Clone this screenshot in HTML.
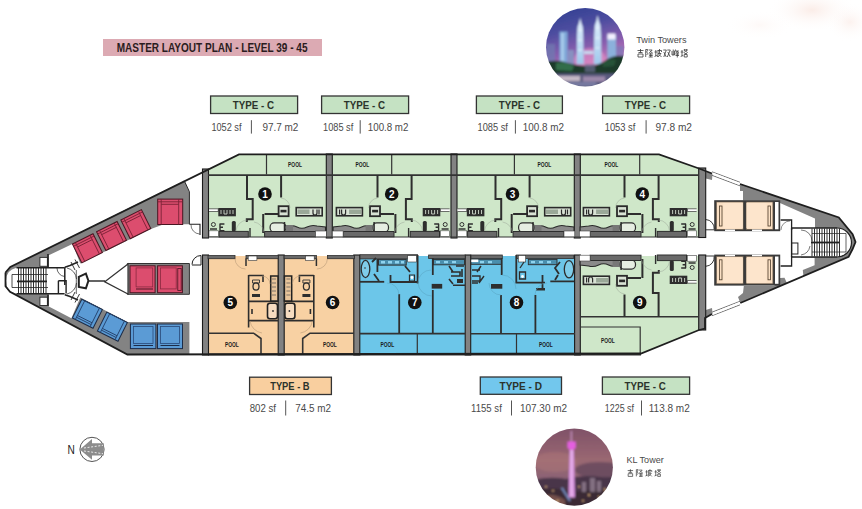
<!DOCTYPE html>
<html><head><meta charset="utf-8">
<style>
html,body{margin:0;padding:0;background:#fff;width:862px;height:509px;overflow:hidden}
svg{display:block}
text{font-family:"Liberation Sans",sans-serif}
</style></head>
<body>
<svg width="862" height="509" viewBox="0 0 862 509">
<defs>
 <radialGradient id="wc" cx="0.5" cy="0.5" r="0.5">
  <stop offset="0" stop-color="#f8e0d8" stop-opacity="0.6"/>
  <stop offset="1" stop-color="#fff" stop-opacity="0"/>
 </radialGradient>
</defs>
<rect width="862" height="509" fill="#fff"/>
<ellipse cx="812" cy="10" rx="45" ry="22" fill="url(#wc)"/>
<ellipse cx="850" cy="22" rx="25" ry="20" fill="url(#wc)" opacity="0.7"/>
<ellipse cx="760" cy="25" rx="35" ry="15" fill="url(#wc)" opacity="0.35"/>

<!-- Title banner -->
<rect x="103" y="39" width="219" height="17" fill="#dcaab3"/>
<text x="116.7" y="52.2" font-size="12.3" font-weight="bold" fill="#2a1c20" textLength="190.8" lengthAdjust="spacingAndGlyphs">MASTER LAYOUT PLAN - LEVEL  39 - 45</text>

<!-- Type labels top -->
<g font-weight="bold" font-size="11.6" fill="#2b332b">
 <rect x="210.6" y="96" width="87" height="17.5" fill="#c5e2c3" stroke="#333" stroke-width="1.3"/>
 <text x="232.7" y="109.1" textLength="41.3" lengthAdjust="spacingAndGlyphs">TYPE - C</text>
 <rect x="321.6" y="96" width="87" height="17.5" fill="#c5e2c3" stroke="#333" stroke-width="1.3"/>
 <text x="343.7" y="109.1" textLength="41.3" lengthAdjust="spacingAndGlyphs">TYPE - C</text>
 <rect x="476.4" y="96" width="86" height="17.5" fill="#c5e2c3" stroke="#333" stroke-width="1.3"/>
 <text x="498.7" y="109.1" textLength="41.3" lengthAdjust="spacingAndGlyphs">TYPE - C</text>
 <rect x="602.6" y="96" width="87" height="17.5" fill="#c5e2c3" stroke="#333" stroke-width="1.3"/>
 <text x="624.7" y="109.1" textLength="41.3" lengthAdjust="spacingAndGlyphs">TYPE - C</text>
 <rect x="249.6" y="377.2" width="81.8" height="17.3" fill="#f9cf9f" stroke="#333" stroke-width="1.3"/>
 <text x="270.2" y="390" textLength="39.4" lengthAdjust="spacingAndGlyphs">TYPE - B</text>
 <rect x="480.3" y="377" width="81.2" height="17.3" fill="#72c7ed" stroke="#333" stroke-width="1.3"/>
 <text x="499.5" y="390" textLength="42.5" lengthAdjust="spacingAndGlyphs">TYPE - D</text>
 <rect x="602.4" y="377" width="87.2" height="17.3" fill="#c5e2c3" stroke="#333" stroke-width="1.3"/>
 <text x="624.5" y="390" textLength="41.3" lengthAdjust="spacingAndGlyphs">TYPE - C</text>
</g>
<g font-size="10.6" fill="#4a4a4a">
 <text x="211.4" y="130.7" textLength="30.1" lengthAdjust="spacingAndGlyphs">1052 sf</text>
 <text x="262.4" y="130.7" textLength="36" lengthAdjust="spacingAndGlyphs">97.7 m2</text>
 <text x="323.1" y="130.7" textLength="30.2" lengthAdjust="spacingAndGlyphs">1085 sf</text>
 <text x="367.8" y="130.7" textLength="40.6" lengthAdjust="spacingAndGlyphs">100.8 m2</text>
 <text x="477.5" y="130.7" textLength="30.4" lengthAdjust="spacingAndGlyphs">1085 sf</text>
 <text x="522.8" y="130.7" textLength="41.1" lengthAdjust="spacingAndGlyphs">100.8 m2</text>
 <text x="604.7" y="130.7" textLength="30.7" lengthAdjust="spacingAndGlyphs">1053 sf</text>
 <text x="655.4" y="130.7" textLength="36.6" lengthAdjust="spacingAndGlyphs">97.8 m2</text>
 <text x="249.7" y="412.1" textLength="26.3" lengthAdjust="spacingAndGlyphs">802 sf</text>
 <text x="295.2" y="412.1" textLength="35.8" lengthAdjust="spacingAndGlyphs">74.5 m2</text>
 <text x="471.1" y="412.1" textLength="30.7" lengthAdjust="spacingAndGlyphs">1155 sf</text>
 <text x="519.9" y="412.1" textLength="47.3" lengthAdjust="spacingAndGlyphs">107.30 m2</text>
 <text x="604.8" y="412.1" textLength="29.2" lengthAdjust="spacingAndGlyphs">1225 sf</text>
 <text x="648.8" y="412.1" textLength="40.9" lengthAdjust="spacingAndGlyphs">113.8 m2</text>
</g>
<g stroke="#555" stroke-width="1">
 <path d="M251.4,120.2 V133.6 M360.2,120.2 V133.6 M515.4,120.2 V133.6 M646.1,120.2 V133.6"/>
 <path d="M285.7,400.5 V415.5 M511.5,400.5 V415.5 M641.5,400.5 V415.5"/>
</g>
<g font-size="9.8" fill="#4a4a4a">
 <text x="636.2" y="43.2" textLength="50.3" lengthAdjust="spacingAndGlyphs">Twin Towers</text>
 <text x="626.5" y="463.2" textLength="37.2" lengthAdjust="spacingAndGlyphs">KL Tower</text>
 <text x="67.6" y="454.3" font-size="13.6" fill="#1a1a1a" textLength="7.3" lengthAdjust="spacingAndGlyphs">N</text>
</g>

<!-- PHOTOS -->
<defs>
 <filter id="bl" x="-0.1" y="-0.1" width="1.2" height="1.2"><feGaussianBlur stdDeviation="0.9"/></filter>
 <clipPath id="c1"><circle cx="585.2" cy="47.2" r="39.2"/></clipPath>
 <clipPath id="c2"><circle cx="574.3" cy="467.2" r="38.6"/></clipPath>
 <linearGradient id="sky1" x1="0.2" y1="0" x2="0.5" y2="1">
  <stop offset="0" stop-color="#2c3c90"/>
  <stop offset="0.3" stop-color="#4e4ea0"/>
  <stop offset="0.55" stop-color="#8a5eae"/>
  <stop offset="0.75" stop-color="#c87ab8"/>
 </linearGradient>
 <linearGradient id="tw" x1="0" y1="0" x2="0" y2="1">
  <stop offset="0" stop-color="#e8f4ff"/>
  <stop offset="1" stop-color="#9fc8ec"/>
 </linearGradient>
 <linearGradient id="sky2" x1="0" y1="0" x2="0" y2="1">
  <stop offset="0" stop-color="#7e5068"/>
  <stop offset="0.4" stop-color="#9a6872"/>
  <stop offset="0.6" stop-color="#8e6474"/>
  <stop offset="0.75" stop-color="#6e5470"/>
 </linearGradient>
</defs>
<g clip-path="url(#c1)"><g filter="url(#bl)">
 <rect x="540" y="5" width="92" height="85" fill="url(#sky1)"/>
 <ellipse cx="590" cy="60" rx="16" ry="12" fill="#e890c8" opacity="0.55"/>
 <path d="M546,44 h9 v22 h-9z" fill="#7078b0" opacity="0.8"/>
 <path d="M559.5,31.6 h8 v34 h-8z" fill="#7fa8d8"/>
 <path d="M561,33 h3 v30 h-3z" fill="#b8d8f4" opacity="0.7"/>
 <path d="M568,50 h6 v16 h-6z" fill="#8890c0"/>
 <path d="M607.4,35 h8.6 v28 h-8.6z" fill="#8cb0dc"/>
 <rect x="607.5" y="33.5" width="8" height="6" fill="#f4f0ff"/>
 <path d="M616,46 h8 v18 h-8z" fill="#8078b8" opacity="0.8"/>
 <path d="M580.1,17.5 L581.3,23 L582.8,27 L583.3,36 L583.8,64 L576.5,64 L577,36 L577.5,27 L579,23 Z" fill="url(#tw)"/>
 <path d="M597.6,15 L598.8,21 L600.4,25.5 L601,35 L601.5,64 L593.8,64 L594.2,35 L594.8,25.5 L596.4,21 Z" fill="url(#tw)"/>
 <path d="M578,30 h4 M578,40 h4 M578,50 h4 M595.5,28 h4 M595.5,38 h4 M595.5,48 h4" stroke="#ffffff" stroke-width="1" opacity="0.8"/>
 <path d="M584,51 h9.5 v3 h-9.5z" fill="#c8d8f0"/>
 <path d="M540,62 L552,61 Q560,60 568,63 Q578,66 590,66 Q600,65 606,60 Q614,55 622,56 L632,54 V76 H540 Z" fill="#1c3a2a"/>
 <path d="M556,63 Q566,61 574,66 L572,71 L556,70Z" fill="#3a7a50" opacity="0.8"/>
 <path d="M603,62 Q610,58 616,60 L614,66 L603,67Z" fill="#2a5a3c" opacity="0.8"/>
 <path d="M585,64 h10 v8 h-10z" fill="#6a6a90" opacity="0.7"/>
 <rect x="540" y="73.5" width="92" height="17" fill="#5a5a7e"/>
 <path d="M556,76 h24 v5 h-24z" fill="#e0d0d8" opacity="0.8"/>
 <path d="M583,76.5 h22 v5 h-22z" fill="#c8a8c8" opacity="0.6"/>
 <path d="M566,82 h30 v4 h-30z" fill="#8a90b8" opacity="0.6"/>
</g></g>
<g clip-path="url(#c2)"><g filter="url(#bl)">
 <rect x="534" y="427" width="82" height="82" fill="url(#sky2)"/>
 <ellipse cx="600" cy="470" rx="25" ry="8" fill="#5e4458" opacity="0.7"/>
 <ellipse cx="555" cy="462" rx="22" ry="10" fill="#b07878" opacity="0.45"/>
 <path d="M534,480 Q550,476 566,479 Q585,474 600,477 Q610,478 616,476 V509 H534 Z" fill="#4a3448"/>
 <path d="M534,490 Q555,486 575,492 Q600,488 616,490 V509 H534 Z" fill="#3a2a36"/>
 <path d="M540,496 Q555,492 565,500 L565,509 H540Z" fill="#9a6a5a" opacity="0.6"/>
 <path d="M590,478 h5 v14 h-5z M597,481 h4 v11 h-4z M582,482 h4 v10 h-4z" fill="#a898a8" opacity="0.6"/>
 <g fill="#f0c080" opacity="0.75">
  <rect x="545" y="486" width="2" height="1.5"/><rect x="552" y="490" width="2" height="1.5"/><rect x="588" y="494" width="2" height="2"/><rect x="598" y="496" width="2" height="1.5"/><rect x="556" y="500" width="3" height="1.5"/><rect x="582" y="500" width="2" height="1.5"/><rect x="604" y="488" width="1.5" height="3"/><rect x="578" y="486" width="2" height="1.5"/>
 </g>
 <path d="M561.7,487.7 L570,500.9" stroke="#8ab0f0" stroke-width="2" opacity="0.7"/>
 <path d="M571.3,431 V442" stroke="#d8a0d8" stroke-width="1"/>
 <path d="M567.5,441.5 h8.2 v6 l-2,2.3 h-4.2 l-2,-2.3 z" fill="#e45ee0"/>
 <path d="M569.6,449.8 L573.8,449.8 L575,497.6 L568.4,497.6 Z" fill="#d890e0"/>
 <path d="M570.8,450 h1.6 v47 h-1.6z" fill="#f0c8f0" opacity="0.8"/>
</g></g>
<!-- compass -->
<g>
 <circle cx="92" cy="449.4" r="12.1" fill="#fff" stroke="#555" stroke-width="1"/>
 <path d="M79.8,449.4 L92,438.9 L92,443.3 L103.8,443.3 L103.8,455.4 L92,455.4 L92,459.8 Z" fill="#8c8c8c"/>
 <path d="M84,448 L103,445.3 M84,451 L103,453.7" stroke="#fff" stroke-width="0.8" stroke-dasharray="2,1.6"/>
</g>
<g fill="none" stroke="#3a3a3a" stroke-width="0.8">
<path transform="translate(636.5,49) scale(1.0)" d="M1,1.5 H7 M4,0 V3.5 M2,3.5 H6 M1.5,5 H6.5 V8 H1.5 Z"/>
<path transform="translate(645.2,49) scale(1.0)" d="M0.5,0.5 H2.5 L1.5,3 L2.5,4.5 L1.5,6 M0.5,0.5 V8 M3.5,1 H7 L4,4 M5,2.5 L7.5,4 M3.5,5 H7.5 M4,6.5 H7.5 M5.5,4 V8 M3.5,8 H7.5"/>
<path transform="translate(654.0,49) scale(1.0)" d="M0.5,3 H3 M1.8,1 V7 M0.5,7.5 L3,6.5 M3.5,1.5 H7.5 V3 M4,1.5 V5 L3.5,8 M5.5,0 V4.5 M4,4.5 H7 L4,8 M5,5.5 L7.5,8"/>
<path transform="translate(662.8,49) scale(1.0)" d="M0.5,1 H3.5 L1,8 M1,3 L3.5,8 M4.5,1 H7.5 L4.5,8 M5,3 L7.5,8"/>
<path transform="translate(671.5,49) scale(1.0)" d="M0.5,2 V6 H3 V2 M1.75,0.5 V6 M4,0.5 L3.5,2 H7 L4,4 M5,2.5 L7.5,4 M4,5 H7.5 M4,6.5 H7.5 M5.8,4 V8.5"/>
<path transform="translate(680.2,49) scale(1.0)" d="M0.5,3 H3 M1.8,1 V7 M0.5,7.5 L3,6.5 M3.5,1 H7.5 M4.5,0 V2 M6.5,0 V2 M5.5,2 L3.5,4 M5.5,2 L7.5,4 M4.3,4.5 H6.7 M4,5.5 H7 V8 H4 Z"/>
<path transform="translate(626.8,469.2) scale(0.9)" d="M1,1.5 H7 M4,0 V3.5 M2,3.5 H6 M1.5,5 H6.5 V8 H1.5 Z"/>
<path transform="translate(635.9,469.2) scale(0.9)" d="M0.5,0.5 H2.5 L1.5,3 L2.5,4.5 L1.5,6 M0.5,0.5 V8 M3.5,1 H7 L4,4 M5,2.5 L7.5,4 M3.5,5 H7.5 M4,6.5 H7.5 M5.5,4 V8 M3.5,8 H7.5"/>
<path transform="translate(645.0,469.2) scale(0.9)" d="M0.5,3 H3 M1.8,1 V7 M0.5,7.5 L3,6.5 M3.5,1.5 H7.5 V3 M4,1.5 V5 L3.5,8 M5.5,0 V4.5 M4,4.5 H7 L4,8 M5,5.5 L7.5,8"/>
<path transform="translate(654.1,469.2) scale(0.9)" d="M0.5,3 H3 M1.8,1 V7 M0.5,7.5 L3,6.5 M3.5,1 H7.5 M4.5,0 V2 M6.5,0 V2 M5.5,2 L3.5,4 M5.5,2 L7.5,4 M4.3,4.5 H6.7 M4,5.5 H7 V8 H4 Z"/>
</g>
<!-- BUILDING -->
<g id="bld">
<!-- outer silhouette -->
<path id="sil" d="M5.5,272.5 L10.3,267 L239,154.4 L659,154.4 L699,168.5 L712,173.5 L740,184 L838.8,217.5 L852.6,234.2 L855.5,242 L852.6,249 L848.6,256.8 L740.3,303 L712,314 L705,318 L705,328.5 L699,330 L641,353.5 L127.4,354.5 L10,291.7 L5.5,286.2 Z" fill="#fff" stroke="none"/>
<!-- LEFT CORE -->
<g fill="#838383">
<path d="M5.5,272.5 L10.3,267 L184.3,180.6 L189.4,191.7 L189.4,224.2 L163.8,224.2 L151,229.1 L80.3,263.5 L72.4,243.9 L48.8,255.2 L48.8,267.7 L16.5,267.7 Q6,270 6,280.7 Q6,292 16.5,293.8 L48.8,293.8 L48.8,306.5 L71.4,318.2 L80.3,297.5 L127.4,322 L189.4,322 L189.4,354.5 L127.4,354.5 L10,291.7 L5.5,286.2 Z"/>
<path d="M127.4,263.5 L189.4,263.5 L189.4,294.3 L127.4,294.3 Z" stroke="#333" stroke-width="1"/>
</g>
<path d="M104.8,281.8 L128,264 L128,294 Z" fill="#fff" stroke="#333" stroke-width="1.2"/>

<g fill="#fff" stroke="#333" stroke-width="1">
<rect x="39.9" y="257.4" width="7.5" height="8.9"/>
<rect x="39.9" y="297.2" width="7.5" height="8.3"/>
</g>
<!-- stair left -->
<g stroke="#222" fill="none">
<path d="M16.5,267.7 L64.6,267.7 M16.5,293.8 L64.6,293.8" stroke-width="1.4"/>
<path d="M12,274.5 L48,274.5 M12,287.5 L48,287.5 M12,274.5 V287.5" stroke-width="0.8"/>
<path d="M17,281.4 L47,281.4" stroke-width="1.8"/>
<path d="M18.5,268 V293.5 M21,268 V293.5 M23.5,268 V293.5 M26,268 V293.5 M28.5,268 V293.5 M31,268 V293.5 M33.5,268 V293.5 M36,268 V293.5 M38.5,268 V293.5 M41,268 V293.5 M43.5,268 V293.5 M46,268 V293.5" stroke-width="0.95"/>
<path d="M64.8,267.2 V285" stroke-width="1.5"/>
<path d="M58.4,280.7 H66.1 V293.4 M58.4,280.7 V293.4" stroke-width="1.4"/>
<path d="M57,268 A8.5,8.5 0 0 0 64.5,276.5" stroke-width="0.7"/>
<path d="M48,254 V267.2 M48,294.7 V306" stroke-width="1.6"/>
<path d="M64.8,267.2 L70,265.5 L78,262 M64.8,294.7 L70,296.5 L78,300" stroke-width="1.5"/>
<path d="M71,262 L75,270 M75,259.5 L79.5,268 M71,300 L75,292 M75,302.5 L79.5,294" stroke-width="0.9"/>
<path d="M78.8,276.8 L85.9,273.6 L88.4,280.7 L85.9,288.3 L78.8,287 Z" stroke-width="2"/>
<path d="M88.4,281 H105" stroke-width="1.4"/>
<path d="M67,268 A12,12 0 0 1 76.5,279 M67,294 A12,12 0 0 0 76.5,283 M76.3,270 V294" stroke-width="0.7"/>
</g>
<g fill="none" stroke="#222" stroke-width="1.1">
 <path d="M189.3,224.2 H200 V235"/>
 <path d="M191,224.5 A9,9 0 0 0 199.5,234" stroke-width="0.6"/>
 <path d="M192,264.5 A9,9 0 0 1 201,255.5" stroke-width="1"/>
 <path d="M201,255.5 V265 H192" stroke-width="1"/>
</g>
<path d="M184.3,180.8 L189.4,191.7 V224.2" fill="none" stroke="#2a2a2a" stroke-width="1"/>
<!-- RIGHT CORE -->
<g stroke="#333" stroke-width="0.7" fill="none">
 <path d="M712,171.8 L740,182.3 M712,175.3 L740,185.8"/>
 <path d="M712,312.2 L740,301.3 M712,315.7 L740,304.8"/>
</g>
<path d="M712.3,173.5 L739.7,184" stroke="#fff" stroke-width="2.2"/>
<path d="M712.3,314 L739.7,303" stroke="#fff" stroke-width="2.2"/>

<g fill="#838383">
<path d="M740,184 L838.8,217.5 L852.6,234.2 L855.5,242 L852.6,249 L848.6,256.8 L740.3,303 L738,297 L743,293 L743.8,286 L774.5,286 L775.7,278.3 L784.5,277.7 L786.9,283 L803.4,276.2 L802.8,270 L814.6,265.3 L814.6,257.7 L801,257.7 L801,228 L815,228 L815,218.5 L780,203 L780,200.5 L743,200.5 L743,191 L740,191 Z"/>
<path d="M699,168.5 L712.5,173.7 L712,180 L705.7,178.5 L705.7,172 Z"/>
<path d="M705,318 L712.5,314 L712,308 L705.7,310 Z"/>
</g>
<path d="M801,228 L837,228 A14.5,14.5 0 0 1 837,257 L801,257 Z" fill="#fff"/>
<g stroke="#222" fill="none">
<path d="M791.6,228 L837,228 M791.6,257 L837,257" stroke-width="1.6"/>
<path d="M837,228 A14.5,14.5 0 0 1 837,257" stroke-width="1.2"/>
<path d="M812,233.5 L846,233.5 L846,252 L812,252" stroke-width="0.7"/>
<path d="M811,242.5 L839,242.5" stroke-width="1.8"/>
<path d="M812,228.5 V256.5 M814.5,228.5 V256.5 M817,228.5 V256.5 M819.5,228.5 V256.5 M822,228.5 V256.5 M824.5,228.5 V256.5 M827,228.5 V256.5 M829.5,228.5 V256.5 M832,228.5 V256.5 M834.5,228.5 V256.5 M837,228.5 V256.5 M839.5,228.5 V256.5" stroke-width="0.95"/>
<path d="M801,230 A11,11 0 0 1 812,241 M801,255 A11,11 0 0 0 810,246" stroke-width="0.6"/>
<path d="M791.6,228 V257" stroke-width="1.4"/>
<path d="M780.6,220 H791.6 V230" stroke-width="1.3"/>
<path d="M780.6,266 H791.6 V256" stroke-width="1.3"/>
<rect x="791.6" y="243" width="6.3" height="11" stroke-width="1"/>
<path d="M781,230 A9,9 0 0 1 790,221" stroke-width="0.5"/>
</g>
<!-- LIFTS -->
<defs>
<g id="lp"><rect x="-11.5" y="-10.5" width="23" height="21" fill="#dc4d6e" stroke="#4a1622" stroke-width="1"/><path d="M-8.2,-10.5 V10.5 M8.2,-10.5 V10.5 M-11.5,-8 H11.5 M-8.2,-5.6 H8.2" fill="none" stroke="#7a2236" stroke-width="0.85"/></g>
<g id="lb"><rect x="-11.5" y="-10.5" width="23" height="21" fill="#5b9bd5" stroke="#1c2c48" stroke-width="1"/><path d="M-8.2,-10.5 V10.5 M8.2,-10.5 V10.5 M-8.2,-10.5 H8.2 M-8.2,6 H8.2 M-8.2,8 H8.2" fill="none" stroke="#24406a" stroke-width="0.85"/></g>
</defs>
<use href="#lp" transform="translate(87.4,248.3) rotate(-26.5)"/>
<use href="#lp" transform="translate(111.5,236) rotate(-26.5)"/>
<use href="#lp" transform="translate(135.8,224.2) rotate(-26.5)"/>
<use href="#lb" transform="translate(87.4,313.75) rotate(26.5)"/>
<use href="#lb" transform="translate(112.4,326.7) rotate(26.5)"/>
<g stroke-width="1">
<rect x="157.7" y="199.1" width="25" height="25.4" fill="#dc4d6e" stroke="#4a1622"/>
<path d="M161.2,199.1 V224.5 M178.7,199.1 V224.5 M158,201.8 H182.5 M161.2,204.3 H178.7" fill="none" stroke="#7a2236" stroke-width="0.9"/>
<rect x="130" y="265.8" width="25.1" height="26.9" fill="#dc4d6e" stroke="#4a1622"/>
<rect x="136.1" y="267.9" width="16.6" height="19" fill="none" stroke="#8a2a40" stroke-width="0.8"/>
<path d="M136,289 H153" stroke="#4a1622"/>
<rect x="157.6" y="265.8" width="24.8" height="26.9" fill="#dc4d6e" stroke="#4a1622"/>
<rect x="160.5" y="267.9" width="15.7" height="21" fill="none" stroke="#8a2a40" stroke-width="0.8"/>
<rect x="177.8" y="268.5" width="3.4" height="22" fill="none" stroke="#4a1622" stroke-width="0.8"/>
<rect x="130.4" y="324" width="25.5" height="24.6" fill="#5b9bd5" stroke="#1c2c48"/>
<rect x="133.5" y="326.5" width="19.5" height="17" fill="none" stroke="#2a4a78" stroke-width="0.8"/>
<path d="M133.5,345.5 H153" stroke="#1c2c48"/>
<rect x="157.5" y="324" width="25" height="24.6" fill="#5b9bd5" stroke="#1c2c48"/>
<rect x="160.5" y="326.5" width="19" height="17" fill="none" stroke="#2a4a78" stroke-width="0.8"/>
<path d="M160.5,345.5 H179.5" stroke="#1c2c48"/>
</g>
<!-- right lifts -->
<g id="rl">
<rect x="714.2" y="200.2" width="66" height="31" fill="#3a3a3a"/>
<rect x="716.5" y="202" width="26.6" height="27.3" fill="#fbe0c4" stroke="#6a5a4a" stroke-width="0.6"/>
<rect x="723.3" y="203" width="19.5" height="25" fill="#fde5cc"/>
<rect x="719.6" y="206" width="2.4" height="20" fill="none" stroke="#4a3a2a" stroke-width="0.8"/>
<rect x="746.2" y="202" width="26.7" height="27.3" fill="#fbe0c4" stroke="#6a5a4a" stroke-width="0.6"/>
<rect x="746.5" y="203" width="20" height="25" fill="#fde5cc"/>
<rect x="768" y="206" width="2.4" height="20" fill="none" stroke="#4a3a2a" stroke-width="0.8"/>
<rect x="775" y="202" width="3.5" height="27.3" fill="#fff"/>
<rect x="725" y="229.5" width="10" height="1.6" fill="#fff"/><rect x="752" y="229.5" width="10" height="1.6" fill="#fff"/>
</g>
<use href="#rl" transform="translate(0,485.8) scale(1,-1)"/>
<!-- Upper units fill -->
<path d="M208,169 L239,154 L659,154 L699,168.5 L699,237 L208,237 Z" fill="#cfe7c9"/>
<!-- Lower units -->
<rect x="208" y="256" width="70" height="98" fill="#f8d1a3"/>
<rect x="284" y="256" width="70" height="98" fill="#f8d1a3"/>
<rect x="360" y="256" width="105" height="98" fill="#6cc6e9"/>
<rect x="471" y="256" width="104" height="98" fill="#6cc6e9"/>
<path d="M580,256 L699,256 L699,330 L641,353.5 L580,353.5 Z" fill="#cfe7c9"/>
<!-- unit walls -->
<g fill="#828282" stroke="#1a1a1a" stroke-width="1.1">
<rect x="202.5" y="169" width="6" height="69"/>
<rect x="326.3" y="154" width="6" height="84"/>
<rect x="451" y="154" width="6" height="84"/>
<rect x="574.3" y="154" width="6" height="84"/>
<rect x="202.5" y="255" width="6" height="100"/>
<rect x="278.2" y="255" width="6" height="100"/>
<rect x="353.8" y="255" width="6" height="100"/>
<rect x="465.2" y="255" width="5.5" height="100"/>
<rect x="574.6" y="255" width="5.7" height="100"/>
<rect x="698.7" y="168" width="7" height="69.5"/>
<rect x="698.7" y="255" width="7" height="75"/>
</g>
<!-- top edge / pools upper -->
<g stroke="#333" fill="none">
<path d="M208,175.2 L699,175.2" stroke-width="1.7"/>
<path d="M208,237 L699,237" stroke-width="1.1"/>
<path d="M266.5,154 L266.5,174.5 M391.7,154 L391.7,174.5 M514.4,154 L514.4,174.5 M639.7,154 L639.7,174.5" stroke-width="1.2"/>
<path d="M208,333.2 H253.6 L261,338.5 V354 M354,333.2 H310 L302.7,338.5 V354 M360,333.6 H465 M471,333.8 H575" stroke-width="1.6"/>
<path d="M580,316.7 L699,316.7" stroke-width="1.6"/>
<path d="M417.3,333 L417.3,354 M516.5,333 L516.5,354" stroke-width="1.2"/>
<path d="M580,327 L640.2,327 L640.2,354" stroke-width="1.2"/>
<path d="M208,354.5 L641,354.5" stroke-width="2"/>
</g>
<!-- UNIT C template -->
<defs>
<g id="uc">
 <g fill="none" stroke="#2e2e2e" stroke-width="2">
  <path d="M247,175 V199 H252.7 V219.2 H246.8 V222"/>
  <path d="M281.1,175 V197.5"/>
  <path d="M264.6,214 H278.5 M263.2,214 V233"/>
 </g>
 <path d="M209,208.8 H218.3 V211.5 H209" fill="#fff" stroke="#333" stroke-width="0.7"/>
 <rect x="218.3" y="208" width="17.6" height="8.3" fill="#2e2e2e"/>
 <path d="M221,210 v4 M224,210 v4 h3 v-4 M230,210 v4 M233,210 v4" stroke="#cfd8cc" stroke-width="0.9" fill="none"/>
 <circle cx="213.4" cy="224.5" r="2" fill="none" stroke="#333" stroke-width="1"/>
 <path d="M210,229 H217" stroke="#333" stroke-width="1.5"/>
 <path d="M219.5,224 H224.4 M219.5,227.3 H223 M219.5,230.6 H224.4 M220,224 V231" stroke="#2e2e2e" stroke-width="1.4" fill="none"/>
 <rect x="231.8" y="221" width="4" height="10.4" rx="1.5" fill="#2e2e2e"/>
 <rect x="219.1" y="231.4" width="29.2" height="5.6" fill="#6a6a6a" stroke="#2e2e2e" stroke-width="1"/>
 <rect x="209" y="230.8" width="9.3" height="5.6" fill="#fff" stroke="#444" stroke-width="0.6"/>
 <path d="M250,228 V237" stroke="#2e2e2e" stroke-width="1.4"/>
 <rect x="278.6" y="206.2" width="10" height="10" fill="#d8e2d4" stroke="#2a2a2a" stroke-width="1.8"/>
 <rect x="280.5" y="209.8" width="6" height="2.6" fill="#2a2a2a"/>
 <rect x="270.1" y="222.9" width="15.8" height="9" rx="4" fill="#e6eee2" stroke="#2e2e2e" stroke-width="1.2"/>
 <rect x="296.2" y="207.6" width="26" height="8.2" fill="#d8e2d4" stroke="#2a2a2a" stroke-width="1.6"/>
 <rect x="297.5" y="209.5" width="12" height="4.5" fill="#9aa898"/>
 <path d="M313,209.5 v3.5 a2,2 0 0 0 4,0 v-3.5 M319,209.5 v5" stroke="#2a2a2a" stroke-width="1.2" fill="none"/>
 <path d="M287,231.5 V227 Q292,224.5 297,227 T307,227 T317,226 L325.5,227 V231.5 Z" fill="#8a8a8a" stroke="#2a2a2a" stroke-width="1.1"/>
 <rect x="286" y="225" width="7" height="6.5" fill="#777" />
 <path d="M284.5,222 V232" stroke="#2a2a2a" stroke-width="1.5"/>
 <rect x="264.6" y="231.5" width="50.9" height="5.3" fill="#6a6a6a" stroke="#2e2e2e" stroke-width="1"/>
 <rect x="315.5" y="231" width="10.8" height="5.8" fill="#fff" stroke="#444" stroke-width="0.6"/>
 <g fill="none" stroke="#9aa597" stroke-width="0.6" opacity="0.8">
  <path d="M254,222 A12,12 0 0 1 264,232"/>
  <path d="M281,198 A10,10 0 0 1 290,208"/>
  <path d="M236,231 A12,12 0 0 1 247,220"/>
 </g>
</g>
</defs>
<use href="#uc"/>
<use href="#uc" transform="translate(658.6,0) scale(-1,1)"/>
<use href="#uc" transform="translate(248.5,0)"/>
<use href="#uc" transform="translate(905.6,0) scale(-1,1)"/>
<use href="#uc" transform="translate(905.6,492) scale(-1,-1)"/>
<!-- LOWER UNIT DETAILS -->
<defs>
<g id="ub">
 <rect x="208" y="255.5" width="27" height="3.2" fill="#6a6a6a" stroke="#2e2e2e" stroke-width="0.8"/>
 <rect x="246" y="255.5" width="32.3" height="3.2" fill="#6a6a6a" stroke="#2e2e2e" stroke-width="0.8"/>
 <rect x="248.2" y="256" width="8.7" height="4.5" fill="#fff" stroke="#333" stroke-width="0.6"/>
 <path d="M246,258.5 V266" stroke="#2e2e2e" stroke-width="1.5"/>
 <path d="M235,258.7 A10.5,10.5 0 0 0 245.5,269" fill="none" stroke="#b89a78" stroke-width="0.6"/>
 <g fill="none" stroke="#2e2e2e" stroke-width="1.6">
  <path d="M248.6,275 V327.6 M248.6,320.6 H278 M248.6,301.4 H278"/>
  <path d="M248.6,275.5 H263 V282"/>
 </g>
 <path d="M252.5,280 h7 v3 h-7z" fill="none" stroke="#333" stroke-width="0.9"/>
 <ellipse cx="256" cy="286.5" rx="3" ry="3.6" fill="none" stroke="#2e2e2e" stroke-width="1.3"/>
 <path d="M252,294 h8 v3 h-8z" fill="#2e2e2e"/>
 <rect x="270.7" y="276" width="7.3" height="25" fill="#e8c49a" stroke="#222" stroke-width="1.5"/>
 <path d="M272,279 h4 M272,283 h4 M272,287 h4 M272,291 h4 M272,295 h4" stroke="#555" stroke-width="0.7"/>
 <rect x="267.5" y="303.3" width="10" height="15.4" rx="2.5" fill="#f6dcc0" stroke="#222" stroke-width="1.6"/>
 <circle cx="273" cy="311" r="0.9" fill="#333"/>
 <path d="M252,309 v5" stroke="#2e2e2e" stroke-width="1.6"/>
 <path d="M262,276 A8,8 0 0 1 270,284" fill="none" stroke="#b89a78" stroke-width="0.6"/>
 <path d="M250,320.9 A14,14 0 0 0 262,333" fill="none" stroke="#b89a78" stroke-width="0.6"/>
</g>
</defs>
<use href="#ub"/>
<use href="#ub" transform="translate(562.4,0) scale(-1,1)"/>
<!-- unit 7 -->
<g>
 <rect x="360" y="254.7" width="57.6" height="4.2" fill="#6a6a6a" stroke="#2e2e2e" stroke-width="0.8"/>
 <rect x="407.7" y="255.7" width="8.9" height="6.3" fill="#fff" stroke="#333" stroke-width="0.6"/>
 <rect x="378.5" y="259.4" width="27.7" height="5.7" fill="#4a8fae" stroke="#2e2e2e" stroke-width="1"/>
 <path d="M381,261 h4 v2.5 h-4z M388,261 h4 v2.5 h-4z M395,261 h4 v2.5 h-4z M401,261 h3 v2.5 h-3z" fill="#8fd3ee"/>
 <ellipse cx="365.5" cy="269" rx="4.3" ry="8.6" fill="#7fcdea" stroke="#2e2e2e" stroke-width="1.3"/>
 <circle cx="365" cy="268" r="0.8" fill="#2e2e2e"/>
 <g fill="none" stroke="#2e2e2e" stroke-width="1.8">
  <path d="M377.4,259 V272"/>
  <path d="M360,281.8 H384.2"/>
  <path d="M390.5,275 V282 H418 M417.6,255 V283.4"/>
  <path d="M372,262 l4,-4 M374,274 l5,7 M405,266 l5,6"/>
 </g>
 <path d="M409.5,275 h5 v6 h-5z" fill="none" stroke="#2e2e2e" stroke-width="1.2"/>
 <circle cx="412" cy="277.5" r="1.4" fill="#fff"/>
 <rect x="428.6" y="255" width="36.6" height="3.5" fill="#6a6a6a" stroke="#2e2e2e" stroke-width="0.8"/>
 <path d="M432.8,258 V275" stroke="#2e2e2e" stroke-width="1.8"/>
 <rect x="433.5" y="259.5" width="31" height="5.3" fill="#4a8fae" stroke="#2e2e2e" stroke-width="0.9"/>
 <path d="M436,261 h4 v2.3 h-4z M444,261 h4 v2.3 h-4z M452,261 h4 v2.3 h-4z" fill="#8fd3ee"/>
 <rect x="431.7" y="283.9" width="10.5" height="4.7" fill="#2e2e2e"/>
 <path d="M449,266 l4,6 M451,272 h9 v4 h-9 M456,266 h8 M462,269 v8 M449,279 l4,5 M453,285.3 H465" fill="none" stroke="#2e2e2e" stroke-width="1.6"/>
 <path d="M457,279 h6 v4 h-6z" fill="#2e2e2e"/>
 <g fill="none" stroke="#2e2e2e" stroke-width="1.8">
  <path d="M399.2,294 V333"/><path d="M432.8,290 V333"/>
 </g>
 <g fill="none" stroke="#5aa7c6" stroke-width="0.6">
  <path d="M387,283 A12,12 0 0 1 399,295"/>
  <path d="M418,283 A14,14 0 0 0 432,296"/>
  <path d="M418,283 A13,13 0 0 1 431,270"/>
 </g>
</g>
<!-- unit 8 -->
<g>
 <rect x="471" y="255" width="31.3" height="3.5" fill="#6a6a6a" stroke="#2e2e2e" stroke-width="0.8"/>
 <rect x="516.3" y="255" width="57.4" height="3.5" fill="#6a6a6a" stroke="#2e2e2e" stroke-width="0.8"/>
 <rect x="471" y="259.3" width="30.5" height="5" fill="#4a8fae" stroke="#2e2e2e" stroke-width="0.9"/>
 <rect x="471.3" y="259.5" width="7" height="2.6" fill="#fff"/>
 <path d="M480,261 h4 v2.3 h-4z M488,261 h4 v2.3 h-4z" fill="#8fd3ee"/>
 <path d="M501.7,258 V275" stroke="#2e2e2e" stroke-width="1.8"/>
 <path d="M472,270 h8 M472,276 h8 v5 h-8 M472,283 h6 M481,266 l-4,6 M484,276 l-5,7" fill="none" stroke="#2e2e2e" stroke-width="1.4"/>
 <rect x="491" y="284" width="11.3" height="4.7" fill="#2e2e2e"/>
 <rect x="518.3" y="255.5" width="7.4" height="6.5" fill="#fff" stroke="#333" stroke-width="0.6"/>
 <g fill="none" stroke="#2e2e2e" stroke-width="1.8">
  <path d="M516.3,255 V282.7 H545 M550.3,281.3 H574 M542.5,275 V289"/>
  <path d="M501,295 V333 M535.4,295 V333"/>
  <path d="M560,262 l-5,6 l4,6 M555,280 l3,-5"/>
 </g>
 <rect x="528.3" y="259.4" width="28.7" height="5.3" fill="#4a8fae" stroke="#2e2e2e" stroke-width="0.9"/>
 <path d="M531,261 h4 v2.3 h-4z M539,261 h4 v2.3 h-4z M547,261 h4 v2.3 h-4z" fill="#8fd3ee"/>
 <path d="M519.5,272 h6 v7 h-6z" fill="none" stroke="#2e2e2e" stroke-width="1.3"/>
 <circle cx="522.5" cy="276.5" r="1.4" fill="#fff"/>
 <path d="M520,268 l4,-6" stroke="#2e2e2e" stroke-width="1.3"/>
 <ellipse cx="569" cy="269.3" rx="4.7" ry="8.6" fill="#7fcdea" stroke="#2e2e2e" stroke-width="1.3"/>
 <rect x="536" y="288" width="9" height="2.5" fill="#2e2e2e"/>
 <g fill="none" stroke="#5aa7c6" stroke-width="0.6">
  <path d="M489,283 A12,12 0 0 0 501,295"/>
  <path d="M547,283 A12,12 0 0 0 535,295"/>
  <path d="M502,275 A14,14 0 0 1 516,289"/>
 </g>
</g>
<path d="M5.5,272.5 L10.3,267 L239,154.4 L659,154.4 L699,168.5 L712,173.5 M740,184 L838.8,217.5 L852.6,234.2 L855.5,242 L852.6,249 L848.6,256.8 L740.3,303 M712,314 L705,318 L705,328.5 L699,330 L641,353.5 L127.4,354.5 L10,291.7 L5.5,286.2 L5.5,272.5" fill="none" stroke="#1e1e1e" stroke-width="1.8"/>
<g fill="none" stroke="#222" stroke-width="0.9">
 <path d="M705.7,219.5 A9,9 0 0 1 714.2,229.5 M705.7,229.8 H714.2"/>
 <path d="M705.7,266.3 A9,9 0 0 0 714.2,256.3 M705.7,256 H714.2"/>
</g>
<!-- pool labels -->
<g font-size="6.4" fill="#1a1a1a" font-weight="bold">
<text x="288.1" y="166.8" textLength="13.8" lengthAdjust="spacingAndGlyphs">POOL</text>
<text x="355.4" y="166.8" textLength="13.8" lengthAdjust="spacingAndGlyphs">POOL</text>
<text x="537.4" y="166.8" textLength="13.8" lengthAdjust="spacingAndGlyphs">POOL</text>
<text x="604.4" y="166.8" textLength="13.8" lengthAdjust="spacingAndGlyphs">POOL</text>
<text x="224.9" y="346.8" textLength="13.8" lengthAdjust="spacingAndGlyphs">POOL</text>
<text x="323" y="346.8" textLength="13.8" lengthAdjust="spacingAndGlyphs">POOL</text>
<text x="380.5" y="346.8" textLength="13.8" lengthAdjust="spacingAndGlyphs">POOL</text>
<text x="539" y="346.8" textLength="13.8" lengthAdjust="spacingAndGlyphs">POOL</text>
<text x="600.9" y="343" textLength="13.8" lengthAdjust="spacingAndGlyphs">POOL</text>
</g>
<!-- unit numbers -->
<g fill="#111">
<circle cx="265" cy="194" r="6.8"/><circle cx="391.7" cy="194" r="6.8"/><circle cx="512.5" cy="194" r="6.8"/><circle cx="642.3" cy="194" r="6.8"/>
<circle cx="230.3" cy="302.5" r="6.8"/><circle cx="332.6" cy="302.5" r="6.8"/><circle cx="414.8" cy="302.5" r="6.8"/><circle cx="516.5" cy="302.5" r="6.8"/><circle cx="639.7" cy="302.5" r="6.8"/>
</g>
<g fill="#fff" font-size="10" font-weight="bold" text-anchor="middle">
<text x="265" y="197.6">1</text><text x="391.7" y="197.6">2</text><text x="512.5" y="197.6">3</text><text x="642.3" y="197.6">4</text>
<text x="230.3" y="306.1">5</text><text x="332.6" y="306.1">6</text><text x="414.8" y="306.1">7</text><text x="516.5" y="306.1">8</text><text x="639.7" y="306.1">9</text>
</g>
</g>

</svg>
</body></html>
